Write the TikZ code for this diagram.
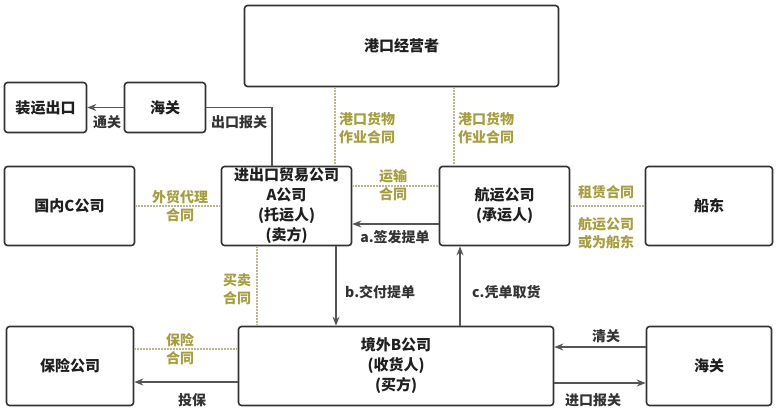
\documentclass[tikz,border=0pt]{standalone}
\usepackage{fontspec}
\setmainfont{Noto Sans CJK SC}
\usetikzlibrary{arrows.meta}
\definecolor{edgegray}{RGB}{51,51,51}
\definecolor{linegray}{RGB}{85,85,85}
\definecolor{dealtext}{RGB}{166,158,62}
\definecolor{dealdot}{RGB}{188,182,140}

\begin{document}
\begin{tikzpicture}[x=1pt, y=-1pt,
	unit/.style={rectangle, rounded corners=3pt, draw=edgegray, line width=1.6pt, fill=white, align=center, inner sep=0pt, text=black!88, font=\bfseries\fontsize{15}{20}\selectfont},
	lab/.style={inner sep=0pt, text=edgegray, font=\bfseries\fontsize{14}{18}\selectfont},
	deal/.style={inner sep=0pt, align=center, text=dealtext, font=\bfseries\fontsize{14}{18}\selectfont},
	link/.style={draw=linegray, line width=1.4pt, -{Stealth[length=9pt,width=7pt]}},
	pact/.style={draw=dealdot, line width=1.3pt, dash pattern=on 1.3pt off 1.7pt}]
			\useasboundingbox (0,0) rectangle (778,413);
			
			\node[unit, minimum width=314pt, minimum height=81pt] (port) at (401.5,46) {港口经营者};
			\node[unit, minimum width=82pt, minimum height=50pt] (ship) at (45.5,107.5) {装运出口};
			\node[unit, minimum width=81pt, minimum height=50pt] (cusA) at (165,107.5) {海关};
			\node[unit, minimum width=130pt, minimum height=79pt] (C) at (69.5,206) {国内C公司};
			\node[unit, minimum width=130pt, minimum height=79pt] (A) at (286.5,206) {进出口贸易公司\\A公司\\(托运人)\\(卖方)};
			\node[unit, minimum width=130pt, minimum height=79pt] (carrier) at (504.5,206) {航运公司\\(承运人)};
			\node[unit, minimum width=127pt, minimum height=79pt] (owner) at (709,206) {船东};
			\node[unit, minimum width=127pt, minimum height=79pt] (ins) at (70,366) {保险公司};
			\node[unit, minimum width=315pt, minimum height=79pt] (B) at (396,366) {境外B公司\\(收货人)\\(买方)};
			\node[unit, minimum width=125pt, minimum height=79pt] (cusB) at (709,366) {海关};
			
			\path[pact] ([xshift=-66.5pt]port.south) -- ([xshift=48.5pt]A.north);
			\path[pact] ([xshift=52.5pt]port.south) -- ([xshift=-50.5pt]carrier.north);
			\path[pact] (C.east) -- (A.west);
			\path[pact] ([yshift=20pt]A.east) -- ([yshift=20pt]carrier.west);
			\path[pact] (carrier.east) -- (owner.west);
			\path[pact] ([xshift=-29.5pt]A.south) -- ([xshift=-139pt]B.north);
			\path[pact] ([yshift=17pt]ins.east) -- ([yshift=17pt]B.west);
			
			\path[link] (cusA.west) -- (ship.east);
			\path[draw=linegray, line width=1.4pt] (cusA.east) -| ([xshift=-14.5pt]A.north);
			\path[link] ([yshift=-18pt]carrier.west) -- ([yshift=-18pt]A.east);
			\path[link] ([xshift=49.5pt]A.south) -- ([xshift=-60pt]B.north);
			\path[link] ([xshift=64pt]B.north) -- ([xshift=-44.5pt]carrier.south);
			\path[link] ([yshift=19pt]cusB.west) -- ([yshift=19pt]B.east);
			\path[link] ([yshift=-17pt]B.east) -- ([yshift=-17pt]cusB.west);
			\path[link] ([yshift=-16pt]B.west) -- ([yshift=-16pt]ins.east);
			
			\node[lab] (tg) at (107,122) {通关};
			\node[lab] (ckbg) at (239,122) {出口报关};
			\node[lab] (qf) at (395,237) {a.签发提单};
			\node[lab, anchor=west] (jf) at (345,292) {b.交付提单};
			\node[lab, anchor=west] (qh) at (472,292) {c.凭单取货};
			\node[lab] (tb) at (192,400) {投保};
			\node[lab] (qg) at (606,336) {清关};
			\node[lab] (jkbg) at (593,400) {进口报关};
			
			\node[deal, anchor=west, align=left] (gk1) at (339,128) {港口货物\\作业合同};
			\node[deal, anchor=west, align=left] (gk2) at (458,128) {港口货物\\作业合同};
			\node[deal] (wm) at (180,206) {外贸代理\\合同};
			\node[deal] (ys) at (393,185) {运输\\合同};
			\node[deal] (zl) at (606,192) {租赁合同};
			\node[deal] (hy) at (606,233) {航运公司\\或为船东};
			\node[deal] (mm) at (237,289) {买卖\\合同};
			\node[deal] (bx) at (180,349) {保险\\合同};
			\end{tikzpicture}
\end{document}
